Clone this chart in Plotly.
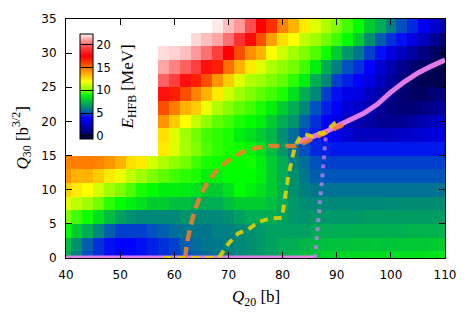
import plotly.graph_objects as go

N = None
q20 = list(range(40, 112, 2))
q30 = list(range(0, 36, 2))

z_q30_0 = [7.1, 6.0, 5.0, 4.6, 4.2, 4.0, 4.0, 4.2, 4.4, 4.6, 4.8, 5.0, 5.3, 5.6, 5.8, 6.0, 6.2, 6.4, 6.6, 6.8, 7.1, 7.4, 7.6, 7.8,
           8.2, 8.2, 8.2, 8.3, 8.3, 8.3, 8.4, 8.4, 8.4, 8.4, 8.5, 8.5]
z_q30_2 = [7.6, 6.4, 5.3, 4.6, 4.2, 4.0, 4.0, 4.2, 4.4, 4.6, 4.8, 5.3, 5.6, 5.8, 5.8, 6.0, 6.2, 6.4, 6.6, 6.8, 7.1, 7.1, 7.4, 7.5,
           7.7, 7.7, 7.7, 7.8, 7.8, 7.8, 7.8, 7.9, 7.9, 7.9, 8.0, 8.0]
z_q30_4 = [9.0, 8.0, 7.1, 6.2, 5.3, 4.8, 4.8, 4.8, 5.0, 5.3, 5.6, 5.8, 5.8, 5.8, 6.0, 6.0, 6.2, 6.4, 6.6, 6.8, 6.8, 6.8, 6.8, 7.0,
           7.1, 7.1, 7.1, 7.2, 7.2, 7.2, 7.2, 7.2, 7.3, 7.3, 7.3, 7.3]
z_q30_6 = [10.0, 9.5, 9.1, 8.4, 7.6, 6.8, 6.4, 6.2, 6.2, 6.2, 6.2, 6.5, 6.2, 6.2, 6.2, 6.4, 6.8, 7.1, 7.1, 7.1, 6.8, 6.6, 6.5, 6.6,
           6.6, 6.6, 6.6, 6.6, 6.7, 6.7, 6.7, 6.7, 6.7, 6.7, 6.7, 6.7]
z_q30_8 = [11.5, 11.0, 10.5, 9.9, 9.35, 9.0, 8.7, 8.4, 8.0, 8.0, 7.6, 7.6, 7.1, 7.1, 7.1, 7.6, 8.0, 8.0, 8.0, 7.6, 7.1, 6.6, 6.3, 6.2,
           6.2, 6.2, 6.2, 6.2, 6.2, 6.2, 6.3, 6.3, 6.3, 6.3, 6.3, 6.3]
z_q30_10 = [13.0, 12.4, 12.0, 11.3, 10.5, 10.0, 9.6, 9.2, 9.0, 8.7, 8.7, 8.6, 8.4, 8.0, 8.0, 8.4, 9.0, 8.7, 8.4, 8.0, 7.1, 6.4, 6.0, 5.8,
            5.7, 5.7, 5.7, 5.7, 5.7, 5.7, 5.7, 5.7, 5.7, 5.7, 5.7, 5.7]
z_q30_12 = [14.2, 13.6, 13.6, 13.0, 12.4, 11.7, 11.0, 10.5, 10.0, 9.75, 9.5, 9.35, 9.2, 8.7, 8.7, 9.0, 9.0, 9.0, 8.7, 8.0, 7.1, 6.4, 5.8, 5.3,
            5.1, 5.1, 5.1, 5.1, 5.1, 5.1, 5.1, 5.1, 5.1, 5.1, 5.1, 5.1]
z_q30_14 = [14.6, 14.7, 14.7, 14.6, 14.2, 13.6, 12.6, 12.4, 11.3, 10.75, 10.25, 9.9, 9.5, 9.2, 9.1, 9.0, 9.0, 9.1, 8.7, 8.0, 7.1, 6.0, 5.6, 5.0,
            4.8, 4.8, 4.8, 4.8, 4.8, 4.8, 4.8, 4.8, 4.8, 4.8, 4.8, 4.8]
z_q30_16 = [N, N, N, N, N, N, N, N, N,
            12.4, 11.5, 10.6, 10.0, 9.6, 9.35, 9.2, 9.1, 8.8, 8.4, 7.6, 6.6, 5.6, 5.0, 4.5,
            4.4, 4.3, 4.3, 4.3, 4.3, 4.3, 4.3, 4.3, 4.3, 4.3, 4.3, 4.3]
z_q30_18 = [N, N, N, N, N, N, N, N, N,
            12.6, 11.5, 10.5, 9.9, 9.5, 9.35, 9.2, 8.7, 8.4, 8.0, 7.4, 6.4, 5.6, 4.8, 4.4,
            4.0, 3.3, 2.7, 2.3, 2.3, 2.3, 2.3, 2.5, 2.6, 2.7, 2.9, 3.0]
z_q30_20 = [N, N, N, N, N, N, N, N, N,
            14.2, 13.0, 12.0, 11.0, 10.25, 9.75, 9.5, 9.2, 9.0, 8.7, 8.0, 7.1, 6.5, 5.3, 4.6,
            4.0, 3.0, 2.3, 2.0, 1.6, 1.2, 1.2, 1.2, 1.6, 2.0, 2.3, 2.7]
z_q30_22 = [N, N, N, N, N, N, N, N, N,
            15.7, 14.7, 13.6, 13.0, 11.7, 10.75, 10.1, 9.75, 9.5, 9.2, 8.7, 8.0, 7.1, 6.2, 5.0,
            4.4, 4.0, 2.7, 2.5, 2.0, 1.4, 0.8, 0.6, 0.6, 0.8, 1.2, 1.6]
z_q30_24 = [N, N, N, N, N, N, N, N, N,
            18.0, 16.8, 15.7, 14.6, 13.6, 12.4, 11.2, 10.5, 10.0, 9.75, 9.5, 9.2, 8.4, 7.1, 6.2,
            4.8, 4.2, 3.2, 3.0, 2.3, 1.8, 1.2, 0.6, 0.3, 0.3, 0.6, 0.8]
z_q30_26 = [N, N, N, N, N, N, N, N, N,
            20.0, 19.3, 18.0, 16.8, 15.7, 14.2, 13.0, 11.5, 10.75, 10.5, 10.0, 9.75, 9.35, 8.7, 7.1,
            6.2, 4.8, 4.4, 4.0, 3.0, 2.3, 1.6, 0.8, 0.3, 0.0, 0.0, 0.0]
z_q30_28 = [N, N, N, N, N, N, N, N, N,
            21.2, 20.6, 20.0, 19.3, 18.0, 16.8, 15.0, 13.6, 12.4, 11.5, 10.75, 10.25, 9.9, 9.5, 8.7,
            7.1, 6.0, 5.0, 4.6, 4.0, 2.7, 2.0, 1.2, 0.6, 0.3, 0.0, -0.2]
z_q30_30 = [N, N, N, N, N, N, N, N, N,
            22.1, 21.9, 21.6, 21.0, 20.3, 19.3, 17.5, 15.7, 14.4, 13.6, 12.0, 11.2, 10.5, 10.0, 9.6,
            9.1, 8.0, 6.6, 5.8, 4.8, 4.2, 3.0, 2.3, 1.6, 0.8, 0.3, 0.0]
z_q30_32 = [N, N, N, N, N, N, N, N, N, N, N, N,
            22.0, 21.6, 21.2, 20.3, 19.0, 17.8, 15.7, 14.0, 12.6, 12.0, 11.0, 10.5,
            9.9, 9.5, 9.0, 8.0, 6.4, 5.3, 4.6, 4.2, 3.0, 2.3, 1.2, 0.6]
z_q30_34 = [N, N, N, N, N, N, N, N, N, N, N, N, N, N,
            22.3, 21.6, 21.0, 19.6, 17.5, 16.4, 14.6, 13.6, 12.4, 11.5,
            10.75, 10.0, 9.5, 9.0, 8.0, 7.1, 6.0, 5.0, 4.5, 3.5, 2.6, 2.0]

z_grid = [z_q30_0, z_q30_2, z_q30_4, z_q30_6, z_q30_8, z_q30_10, z_q30_12, z_q30_14, z_q30_16,
          z_q30_18, z_q30_20, z_q30_22, z_q30_24, z_q30_26, z_q30_28, z_q30_30, z_q30_32, z_q30_34]

# paths
violet_low_x = [40.0, 86.2]
violet_low_y = [0.0, 0.0]
violet_dot_x = [86.0, 86.2, 86.4, 86.7, 86.9, 87.2, 87.4, 87.6, 87.8, 88.0]
violet_dot_y = [0.0, 2.2, 4.3, 6.3, 8.4, 10.6, 12.6, 14.5, 16.4, 18.0]
violet_up_x = [83.0, 86.0, 88.0, 90.0, 92.0, 95.0, 97.5, 100.0, 102.5, 105.0, 107.5, 110.0]
violet_up_y = [17.0, 17.8, 18.5, 19.3, 20.0, 21.2, 22.5, 24.3, 25.8, 27.1, 28.1, 29.0]
orange_x = [62.0, 62.3, 62.9, 63.8, 64.7, 66.0, 67.8, 70.0, 72.5, 75.0, 77.5, 80.0, 82.3, 84.0, 86.0, 88.0, 90.0, 92.0]
orange_y = [0.0, 2.0, 4.3, 7.0, 8.9, 10.9, 12.8, 14.3, 15.5, 16.1, 16.4, 16.4, 16.4, 16.9, 17.6, 18.3, 19.0, 19.8]
yellow_x = [58.0, 68.2, 70.0, 71.8, 73.7, 75.6, 77.7, 80.0, 80.1, 80.6, 81.1, 81.7, 82.3, 83.3, 84.2, 85.5, 86.5, 87.5, 88.5, 89.7, 90.6]
yellow_y = [0.0, 0.0, 2.1, 3.6, 4.2, 5.3, 5.8, 5.9, 7.0, 10.1, 12.2, 14.3, 16.4, 17.8, 18.1, 17.8, 18.3, 18.2, 19.0, 19.8, 20.2]

cb_ticks = [0, 5, 10, 15, 20]
x_ticks = [40, 50, 60, 70, 80, 90, 100, 110]
y_ticks = [0, 5, 10, 15, 20, 25, 30, 35]

zmin, zmax = -0.7, 22.4
stops = [(-0.7, "#000030"), (0.0, "#000050"), (0.8, "#000080"), (2.0, "#0000b0"), (3.0, "#0000e0"),
         (4.0, "#0000ff"), (5.0, "#0050c0"), (6.0, "#008080"), (7.0, "#00a858"), (8.0, "#00cc30"),
         (9.0, "#00ff00"), (10.0, "#80ff00"), (11.0, "#c0ff00"), (12.0, "#ffff00"), (13.0, "#ffcc00"),
         (14.0, "#ffa000"), (15.0, "#ff7000"), (16.0, "#ff4000"), (17.5, "#ff0000"), (19.0, "#ff3030"),
         (20.0, "#ff6060"), (21.0, "#ff9999"), (22.4, "#fff0f0")]
colorscale = [[(v - zmin) / (zmax - zmin), c] for v, c in stops]

fig = go.Figure()
fig.add_trace(go.Heatmap(
    x=q20, y=q30, z=z_grid, zmin=zmin, zmax=zmax, colorscale=colorscale, zsmooth=False,
    hoverongaps=False,
    colorbar=dict(x=(80 - 66) / 379, xanchor="left", y=(258 - 85) / 241, yanchor="middle",
                  len=106 / 241, lenmode="fraction", thickness=13, xpad=0, ypad=0,
                  outlinewidth=1, outlinecolor="black", tickvals=cb_ticks, ticks="inside",
                  ticklen=13, tickcolor="black", tickwidth=1,
                  tickfont=dict(family="DejaVu Sans", size=11.5, color="black")),
))

line_common = dict(mode="lines", hoverinfo="skip", showlegend=False, cliponaxis=False)
fig.add_trace(go.Scatter(x=violet_low_x, y=violet_low_y, line=dict(color="rgba(238,130,238,0.95)", width=5), **line_common))
fig.add_trace(go.Scatter(x=violet_up_x, y=violet_up_y, line=dict(color="rgba(238,130,238,0.95)", width=5), **line_common))
fig.add_trace(go.Scatter(x=violet_dot_x, y=violet_dot_y, line=dict(color="rgba(200,125,235,0.75)", width=4, dash="4px,5px"), **line_common))
fig.add_trace(go.Scatter(x=orange_x, y=orange_y, line=dict(color="rgba(250,125,40,0.85)", width=4.5, dash="11px,6px"), **line_common))
fig.add_trace(go.Scatter(x=yellow_x, y=yellow_y, line=dict(color="rgba(225,208,0,0.9)", width=4, dash="8px,6px"), **line_common))

axis_common = dict(showgrid=False, zeroline=False, showline=True, linecolor="black", linewidth=1,
                   mirror="ticks", ticks="inside", ticklen=6, tickwidth=1, tickcolor="black",
                   tickfont=dict(family="DejaVu Sans", size=12, color="black"))
fig.update_xaxes(range=[40, 110], tickvals=x_ticks, ticklabelstandoff=6, **axis_common)
fig.update_yaxes(range=[0, 35], tickvals=y_ticks, ticklabelstandoff=6, **axis_common)

serif = dict(family="Liberation Serif", size=17, color="black")
fig.update_layout(
    width=469, height=317, margin=dict(l=66, r=24, t=17, b=59),
    paper_bgcolor="white", plot_bgcolor="white", showlegend=False,
    annotations=[
        dict(text="<i>Q</i><sub>20</sub> [b]", x=0.5, y=-0.166, xref="paper", yref="paper",
             showarrow=False, font=serif, xanchor="center", yanchor="middle"),
        dict(text="<i>Q</i><sub>30</sub> [b<sup>3/2</sup>]", x=(22 - 66) / 379, y=0.5, xref="paper", yref="paper",
             showarrow=False, font=serif, textangle=-90, xanchor="center", yanchor="middle"),
        dict(text="<i>E</i><sub>HFB</sub> [MeV]", x=(129 - 66) / 379, y=(258 - 86) / 241, xref="paper", yref="paper",
             showarrow=False, font=serif, textangle=-90, xanchor="center", yanchor="middle"),
    ],
)
fig.write_html("out.html", config={"displayModeBar": False},
               post_script="document.body.style.margin='0';document.body.style.overflow='hidden';")
